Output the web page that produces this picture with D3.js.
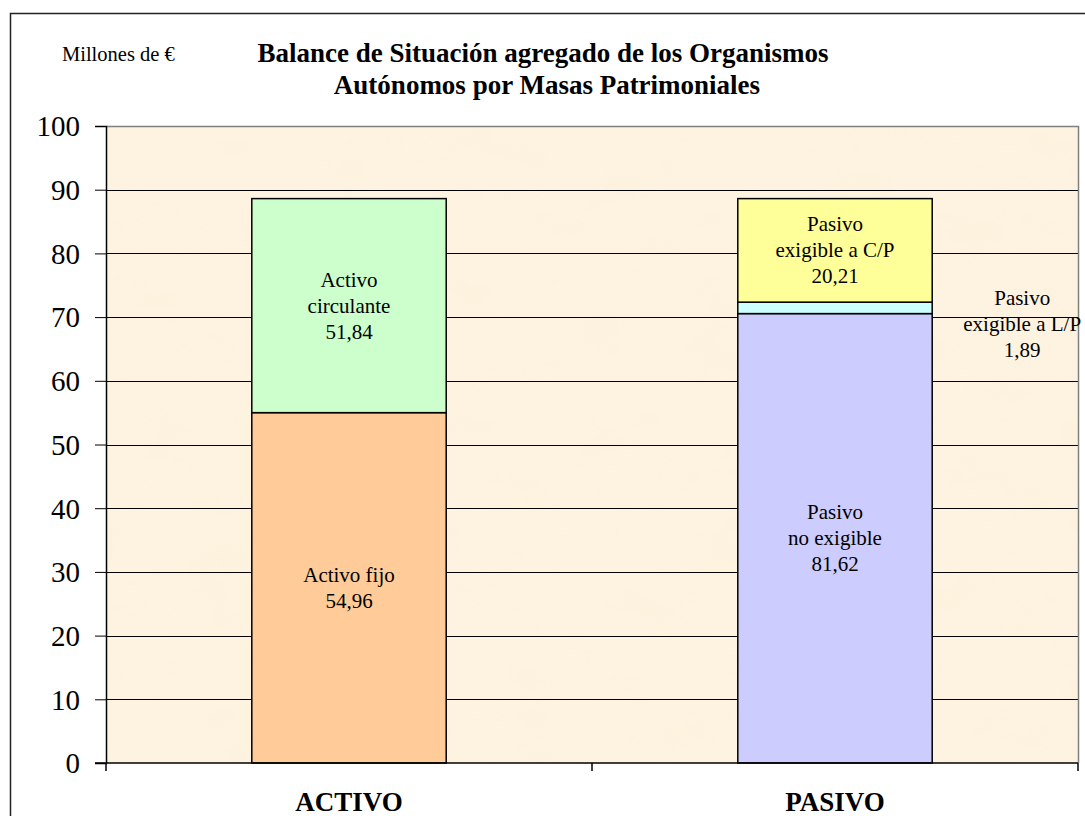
<!DOCTYPE html>
<html>
<head>
<meta charset="utf-8">
<script src="https://cdn.jsdelivr.net/npm/d3@7"></script>
<style>
  body { margin: 0; background: #fff; }
  svg text { font-family: "Liberation Serif", "DejaVu Serif", serif; fill: #000; }
</style>
</head>
<body>
<script>
// data
var categories = ["ACTIVO", "PASIVO"];
var segCategory = ["ACTIVO", "ACTIVO", "PASIVO", "PASIVO", "PASIVO"];
var segHeight = [55.0, 33.6, 70.55, 1.8, 16.25];   // height of each block on the axis
var segLabel = [
    ["Activo fijo", "54,96"],
    ["Activo", "circulante", "51,84"],
    ["Pasivo", "no exigible", "81,62"],
    ["Pasivo", "exigible a L/P", "1,89"],
    ["Pasivo", "exigible a C/P", "20,21"]
];
var segOutside = [false, false, false, true, false];
var yTicks = [0, 10, 20, 30, 40, 50, 60, 70, 80, 90, 100];

var segColor = ["#FFCC99", "#CCFFCC", "#CCCCFF", "#CCFFFF", "#FFFF99"];

var w = 1085;
var h = 816;
var margin = {top: 126, right: 7, bottom: 53, left: 106};

var svg = d3.select("body")
    .append("svg")
    .attr("width", w)
    .attr("height", h);

// parchment texture
var defs = svg.append("defs");
var filt = defs.append("filter").attr("id", "paper")
    .attr("x", 0).attr("y", 0).attr("width", "100%").attr("height", "100%");
filt.append("feTurbulence")
    .attr("type", "fractalNoise")
    .attr("baseFrequency", "0.016 0.024")
    .attr("numOctaves", 4)
    .attr("seed", 7);
filt.append("feColorMatrix")
    .attr("type", "matrix")
    .attr("values", "0 0 0 0 0.96  0 0 0 0 0.87  0 0 0 0 0.68  1.6 0 0 0 -0.7");

// outer chart border
svg.append("rect")
    .attr("x", 10.5).attr("y", 13.5)
    .attr("width", w + 10).attr("height", h + 10)
    .attr("fill", "none")
    .attr("stroke", "#222")
    .attr("stroke-width", 1.5);

var x = d3.scaleBand()
    .domain(categories)
    .range([margin.left, w - margin.right])
    .paddingInner(0.6)
    .paddingOuter(0.3);

var xOuter = d3.scaleBand()
    .domain(categories)
    .range([margin.left, w - margin.right]);

var y = d3.scaleLinear()
    .domain([0, 100])
    .range([h - margin.bottom, margin.top]);

var pl = margin.left, pr = w - margin.right, pt = y(100), pb = y(0);

// plot area
svg.append("rect")
    .attr("x", pl).attr("y", pt)
    .attr("width", pr - pl).attr("height", pb - pt)
    .attr("fill", "#FEF3E1");
svg.append("rect")
    .attr("x", pl).attr("y", pt)
    .attr("width", pr - pl).attr("height", pb - pt)
    .attr("filter", "url(#paper)")
    .attr("opacity", 0.5);

// grid lines
svg.selectAll("line.grid")
    .data(yTicks.filter(d => d > 0 && d < 100))
    .enter()
    .append("line")
    .attr("class", "grid")
    .attr("x1", pl).attr("x2", pr)
    .attr("y1", d => Math.round(y(d)) + 0.5)
    .attr("y2", d => Math.round(y(d)) + 0.5)
    .attr("stroke", "#000")
    .attr("stroke-width", 1);

// plot border top / right
svg.append("path")
    .attr("d", "M" + pl + "," + (pt + 0.5) + "H" + (pr + 0.5) + "V" + pb)
    .attr("fill", "none")
    .attr("stroke", "#808080")
    .attr("stroke-width", 1.5);

// stacked blocks
var cum = {};
var segs = segHeight.map(function (v, i) {
    var c = segCategory[i];
    var y0 = cum[c] || 0;
    cum[c] = y0 + v;
    return {cat: c, y0: y0, y1: y0 + v, label: segLabel[i], color: segColor[i], outside: segOutside[i]};
});

svg.selectAll("rect.seg")
    .data(segs)
    .enter()
    .append("rect")
    .attr("class", "seg")
    .attr("x", d => x(d.cat))
    .attr("y", d => y(d.y1))
    .attr("width", x.bandwidth())
    .attr("height", d => y(d.y0) - y(d.y1))
    .attr("fill", d => d.color)
    .attr("stroke", "#000")
    .attr("stroke-width", 1.5);

// y axis
var yAxis = svg.append("g")
    .attr("transform", "translate(" + pl + ",0)")
    .call(d3.axisLeft(y).tickValues(yTicks).tickSize(11).tickPadding(15));
yAxis.attr("font-family", null);
yAxis.select(".domain").attr("stroke", "#000").attr("stroke-width", 1.5);
yAxis.selectAll(".tick line").attr("stroke", "#000");
yAxis.selectAll(".tick text")
    .attr("font-size", "29px")
    .attr("dy", "0.34em")
    .attr("fill", "#000");

// x axis line and ticks at band boundaries
svg.append("line")
    .attr("x1", pl - 11).attr("x2", pr)
    .attr("y1", pb).attr("y2", pb)
    .attr("stroke", "#000").attr("stroke-width", 1.5);
var bounds = categories.map(c => xOuter(c)).concat([pr]);
svg.selectAll("line.xtick")
    .data(bounds)
    .enter()
    .append("line")
    .attr("class", "xtick")
    .attr("x1", d => d).attr("x2", d => d)
    .attr("y1", pb).attr("y2", pb + 8)
    .attr("stroke", "#000").attr("stroke-width", 1.5);

svg.selectAll("text.cat")
    .data(categories)
    .enter()
    .append("text")
    .attr("class", "cat")
    .attr("x", d => x(d) + x.bandwidth() / 2)
    .attr("y", 811)
    .attr("text-anchor", "middle")
    .attr("font-weight", "bold")
    .attr("font-size", "27px")
    .text(d => d);

// block labels
var lineH = 26;
var lab = svg.selectAll("g.lab")
    .data(segs)
    .enter()
    .append("g")
    .attr("class", "lab")
    .attr("transform", function (d) {
        var cx = x(d.cat) + x.bandwidth() / 2;
        var cy = (y(d.y0) + y(d.y1)) / 2;
        if (d.outside) {
            cx = x(d.cat) + x.bandwidth() + 90;
            cy = cy + 16;
        }
        return "translate(" + cx + "," + cy + ")";
    });
lab.selectAll("text")
    .data(d => d.label.map((t, i) => ({t: t, i: i, n: d.label.length})))
    .enter()
    .append("text")
    .attr("text-anchor", "middle")
    .attr("font-size", "21px")
    .attr("y", d => (d.i - (d.n - 1) / 2) * lineH + 7)
    .text(d => d.t);

// titles
svg.append("text")
    .attr("x", 62).attr("y", 61)
    .attr("font-size", "20.5px")
    .text("Millones de €");

var title = svg.append("text")
    .attr("text-anchor", "middle")
    .attr("font-weight", "bold")
    .attr("font-size", "27px");
title.append("tspan").attr("x", 543).attr("y", 62)
    .text("Balance de Situación agregado de los Organismos");
title.append("tspan").attr("x", 547).attr("y", 94)
    .text("Autónomos por Masas Patrimoniales");
</script>
</body>
</html>
